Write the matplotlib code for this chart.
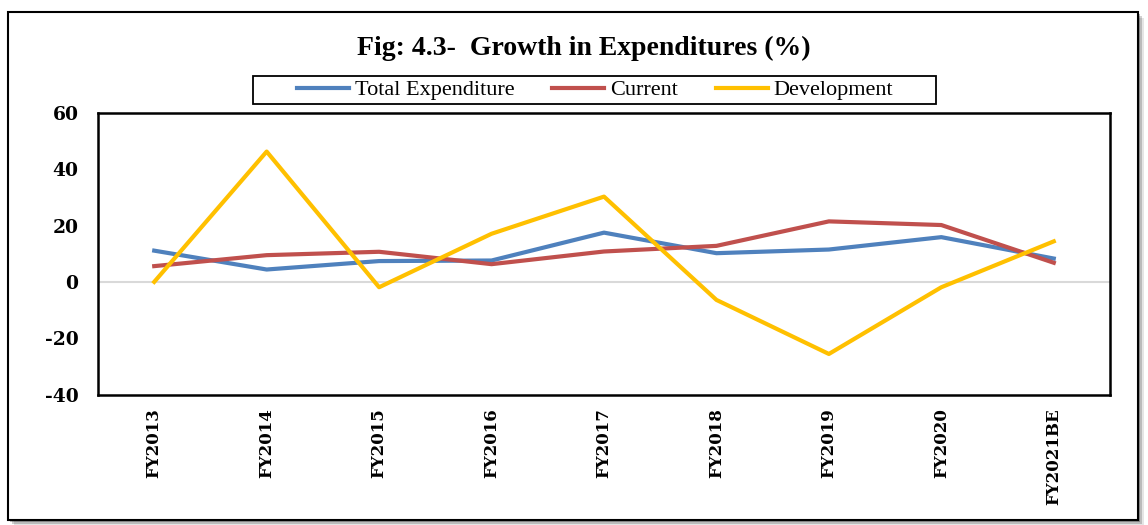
import matplotlib.pyplot as plt
from matplotlib.patches import Rectangle

YEARS = ["FY2013", "FY2014", "FY2015", "FY2016", "FY2017",
         "FY2018", "FY2019", "FY2020", "FY2021BE"]
TOTAL = [11.1, 4.4, 7.4, 7.6, 17.5, 10.2, 11.5, 15.9, 8.3]
CURRENT = [5.6, 9.5, 10.7, 6.3, 10.8, 12.8, 21.5, 20.2, 6.8]
DEVELOPMENT = [0.0, 46.3, -1.9, 17.1, 30.3, -6.4, -25.6, -1.9, 14.4]

SERIF = ["Liberation Serif", "DejaVu Serif"]
WIDE_SERIF = ["DejaVu Serif"]


def main():
    fig = plt.figure(figsize=(11.48, 5.25), dpi=100)

    # outer frame with a soft shadow on right/bottom
    W, H = 1148, 525
    for i, a in enumerate([0.10, 0.18, 0.26]):
        off = 6 - 2 * i
        fig.patches.append(Rectangle(((8 + off) / W, 1 - (520 + off) / H),
                                     1130 / W, 508 / H,
                                     transform=fig.transFigure,
                                     facecolor="black", alpha=a,
                                     edgecolor="none", zorder=0))
    fig.patches.append(Rectangle((8 / W, 1 - 520 / H), 1130 / W, 508 / H,
                                 transform=fig.transFigure, facecolor="white",
                                 edgecolor="black", linewidth=1.5, zorder=1))

    ax = fig.add_axes([98 / W, 1 - 394.5 / H, (1110 - 98) / W, (394.5 - 113) / H])
    ax.set_zorder(2)
    x = range(len(YEARS))
    ax.axhline(0, color="#d9d9d9", linewidth=1.5, zorder=1)
    ax.plot(x, TOTAL, color="#4F81BD", linewidth=3, label="Total Expenditure", zorder=3)
    ax.plot(x, CURRENT, color="#C0504D", linewidth=3, label="Current", zorder=3)
    ax.plot(x, DEVELOPMENT, color="#FFC000", linewidth=3, label="Development", zorder=4)

    ax.set_xlim(-0.5, len(YEARS) - 0.5)
    ax.set_ylim(-40, 60)
    yticks = [-40, -20, 0, 20, 40, 60]
    ax.set_yticks(yticks)
    ax.set_xticks(list(x))
    ax.set_xticklabels(YEARS, rotation=90, fontfamily=WIDE_SERIF,
                       fontweight="bold", fontsize=12)
    ax.set_yticklabels([str(v) for v in yticks],
                       fontfamily=WIDE_SERIF, fontweight="bold", fontsize=13.5)
    ax.tick_params(length=0, pad=14)
    ax.tick_params(axis="x", pad=10)
    for s in ax.spines.values():
        s.set_linewidth(1.8)
        s.set_color("black")

    fig.text(584 / W, 1 - 48 / H, "Fig: 4.3-  Growth in Expenditures (%)",
             ha="center", va="center", fontfamily=SERIF, fontweight="bold",
             fontsize=20, zorder=3)

    # legend box drawn as a separate frame like the source
    fig.patches.append(Rectangle((253 / W, 1 - 104 / H), (936 - 253) / W, 28 / H,
                                 transform=fig.transFigure, facecolor="white",
                                 edgecolor="black", linewidth=1.3, zorder=2))
    leg = fig.legend(loc="center", bbox_to_anchor=(595 / W, 1 - 90 / H),
                     ncol=3, frameon=False, prop={"family": SERIF, "size": 16},
                     handlelength=2.35, handletextpad=0.25, columnspacing=1.7,
                     borderpad=0.1)
    leg.set_zorder(3)

    fig.savefig("out.png", dpi=100)
    plt.close(fig)


if __name__ == "__main__":
    main()
